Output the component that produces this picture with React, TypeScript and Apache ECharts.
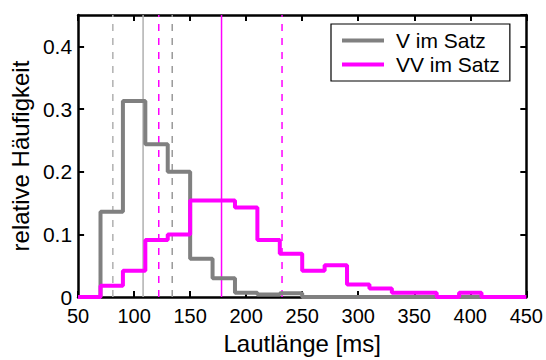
import React, { useEffect, useRef } from "react";
import * as echarts from "echarts";

const binEdges = [50, 70, 90, 110, 130, 150, 170, 190, 210, 230, 250, 270, 290, 310, 330, 350, 370, 390, 410, 430, 450];
const grayValues = [0, 0.136, 0.313, 0.244, 0.2, 0.061, 0.03, 0.007, 0.004, 0.006, 0, 0, 0, 0, 0, 0, 0, 0];
const magentaValues = [0, 0.018, 0.042, 0.091, 0.1, 0.154, 0.154, 0.143, 0.091, 0.069, 0.042, 0.051, 0.02, 0.0136, 0.007, 0.007, 0, 0.007, 0, 0];
const seriesNames = ["V im Satz", "VV im Satz"];
const grayMean = 108;
const grayBand = [81, 134];
const magentaMean = 178;
const magentaBand = [122, 232];
const xTicks = { min: 50, max: 450, interval: 50 };
const yTicks = { min: 0, max: 0.45, interval: 0.1 };

function stepData(values: number[]) {
  const pts: number[][] = values.map((v, i) => [binEdges[i], v]);
  pts.push([binEdges[values.length], values[values.length - 1]]);
  return pts;
}

const FONT = "'Liberation Sans', Arial, sans-serif";
const GRAY = "#808080";
const MAG = "#ff00ff";
const LGRAY = "#b0b0b0";

function vLine(x: number, color: string, dashed: boolean) {
  return {
    type: "line",
    data: [[x, yTicks.min], [x, yTicks.max]],
    z: 1,
    silent: true,
    showSymbol: false,
    symbol: "none",
    emphasis: { disabled: true },
    lineStyle: { color, width: 1.5, type: dashed ? [7, 7] : "solid", opacity: 1 },
    itemStyle: { color },
  };
}

export default function App() {
  const ref = useRef<HTMLDivElement>(null);
  useEffect(() => {
    if (!ref.current) return;
    const chart = echarts.init(ref.current, null, { renderer: "svg" });
    const axisLine = { show: true, onZero: false, lineStyle: { color: "#000", width: 2.5 } };
    const tick = { show: true, inside: true, length: 6, lineStyle: { color: "#000", width: 2 } };
    chart.setOption({
      animation: false,
      textStyle: { fontFamily: FONT },
      grid: { left: 73.5, right: 19.5, top: 15, bottom: 57.5, containLabel: false },
      legend: {
        data: seriesNames,
        orient: "vertical",
        left: 331,
        top: 24,
        padding: [6, 10, 6, 11],
        itemGap: 3,
        itemWidth: 42,
        itemHeight: 4,
        icon: "rect",
        backgroundColor: "#fff",
        borderColor: "#000",
        borderWidth: 1.2,
        borderRadius: 0,
        textStyle: { fontSize: 21, color: "#000", fontFamily: FONT, padding: [0, 0, 0, 7] },
      },
      xAxis: [
        {
          type: "value",
          ...xTicks,
          position: "bottom",
          name: "Lautlänge [ms]",
          nameLocation: "middle",
          nameGap: 32,
          nameTextStyle: { fontSize: 24, color: "#000", fontFamily: FONT },
          axisLine,
          axisTick: tick,
          axisLabel: { fontSize: 20, color: "#000", margin: 9, fontFamily: FONT },
          splitLine: { show: false },
        },
        {
          type: "value",
          ...xTicks,
          position: "top",
          axisLine,
          axisTick: tick,
          axisLabel: { show: false },
          splitLine: { show: false },
        },
      ],
      yAxis: [
        {
          type: "value",
          ...yTicks,
          position: "left",
          name: "relative Häufigkeit",
          nameLocation: "middle",
          nameGap: 38,
          nameTextStyle: { fontSize: 24, color: "#000", fontFamily: FONT },
          axisLine,
          axisTick: tick,
          axisLabel: {
            fontSize: 21,
            color: "#000",
            margin: 6,
            fontFamily: FONT,
            showMaxLabel: false,
            formatter: (v: number) => (Math.abs(v * 10 - Math.round(v * 10)) < 1e-6 ? String(Math.round(v * 10) / 10) : ""),
          },
          splitLine: { show: false },
        },
        {
          type: "value",
          ...yTicks,
          position: "right",
          axisLine,
          axisTick: tick,
          axisLabel: { show: false },
          splitLine: { show: false },
        },
      ],
      series: [
        vLine(grayBand[0], LGRAY, true),
        vLine(grayMean, LGRAY, false),
        vLine(grayBand[1], "#999999", true),
        vLine(magentaBand[0], MAG, true),
        vLine(magentaMean, MAG, false),
        vLine(magentaBand[1], MAG, true),
        {
          name: seriesNames[0],
          type: "line",
          step: "end",
          data: stepData(grayValues),
          showSymbol: false,
          z: 3,
          lineStyle: { color: GRAY, width: 4 },
          itemStyle: { color: GRAY },
        },
        {
          name: seriesNames[1],
          type: "line",
          step: "end",
          data: stepData(magentaValues),
          showSymbol: false,
          z: 4,
          lineStyle: { color: MAG, width: 4 },
          itemStyle: { color: MAG },
        },
      ],
    });
    return () => chart.dispose();
  }, []);
  return <div ref={ref} style={{ width: 546, height: 360, position: "absolute", left: 0, top: 0 }} />;
}
